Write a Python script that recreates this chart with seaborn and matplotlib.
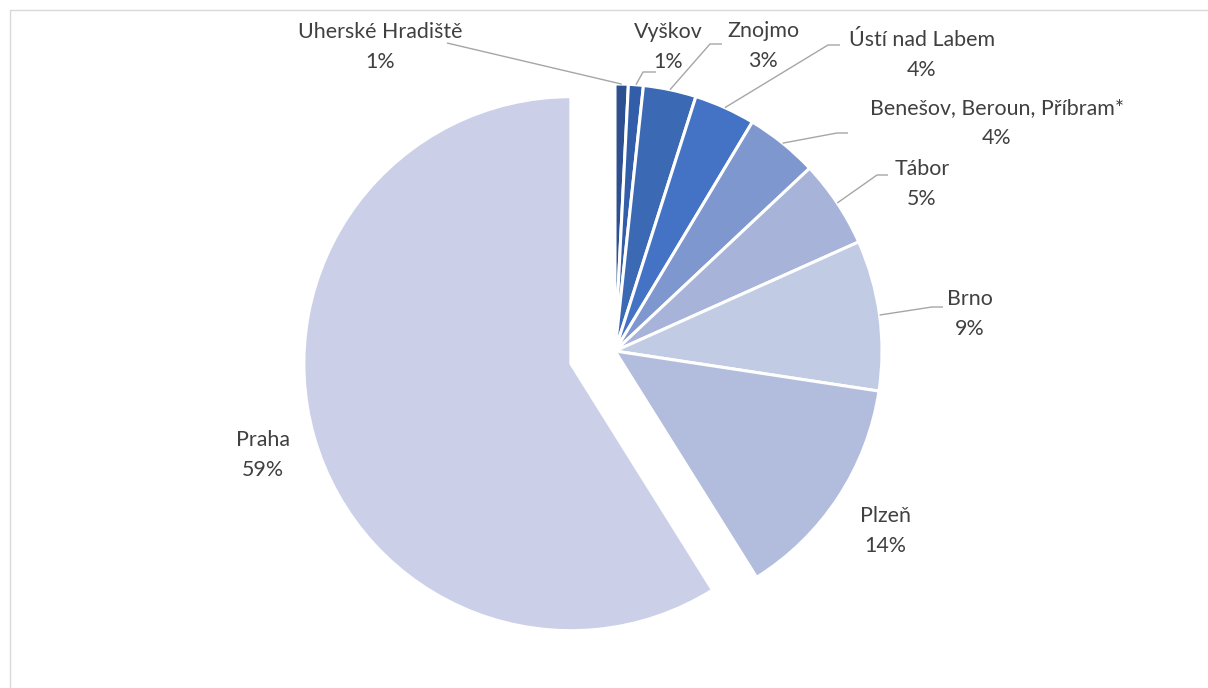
import numpy as np
import matplotlib
matplotlib.use("Agg")
import matplotlib.pyplot as plt
import seaborn as sns

# Share of cases by region (percent)
regions = ["Uherské Hradiště", "Vyškov", "Znojmo", "Ústí nad Labem",
           "Benešov, Beroun, Příbram*", "Tábor", "Brno", "Plzeň", "Praha"]
shares = [0.8, 0.9, 3.2, 3.7, 4.4, 5.3, 9.1, 13.7, 58.9]
colors = ["#2F5090", "#325EA9", "#3C69B4", "#4472C4", "#7F97CF",
          "#A7B3D9", "#C1CBE4", "#B2BDDD", "#CBD0E8"]
exploded = "Praha"

sns.set_style("white")
plt.rcParams["font.family"] = ["Lato", "DejaVu Sans"]

W, H = 1208, 688
CX, CY, R = 615, 351, 267  # pie centre and radius in pixels


def P(px, py):
    """Pixel position -> data coordinates (pie radius = 1)."""
    return ((px - CX) / R, (CY - py) / R)


fig = plt.figure(figsize=(W / 100, H / 100), dpi=100)
ax = fig.add_axes([0, 0, 1, 1])

explode = [0.172 if r == exploded else 0 for r in regions]
ax.pie(shares, colors=colors, startangle=90, counterclock=False,
       explode=explode, radius=1.0, center=(0, 0),
       wedgeprops=dict(edgecolor="white", linewidth=2.2))

# pie() resets the limits, so set the pixel-aligned view afterwards
ax.set_xlim(P(0, 0)[0], P(W, 0)[0])
ax.set_ylim(P(0, H)[1], P(0, 0)[1])
ax.set_aspect("equal", adjustable="datalim")
ax.set_position([0, 0, 1, 1])
ax.axis("off")

# label centres and leader-line knees (pixels); None = no leader line
label_pos = [(380, 47), (668, 47), (763, 46), (922, 55), (997, 123),
             (922, 184), (970, 314), (885, 531), (263, 455)]
leader_knee = [((447, 43), (447, 43)), ((656, 72), (643, 72)),
               ((722, 44), (710, 44)), ((840, 45), (828, 45)),
               ((848, 133), (837, 133)), ((888, 175), (877, 175)),
               ((943, 307), (932, 307)), None, None]

total = sum(shares)
cum = np.cumsum(shares)
for name, s, c, pos, knee in zip(regions, shares, cum, label_pos, leader_knee):
    pct = 100 * s / total
    x, y = P(*pos)
    ax.text(x, y, f"{name}\n{pct:.0f}%", ha="center", va="center",
            fontsize=15.4, color="#404040", linespacing=1.67)
    if knee is not None:
        theta = np.deg2rad(360 * (c - s / 2) / total)
        ax_pt = (np.sin(theta), np.cos(theta))
        e, k = P(*knee[0]), P(*knee[1])
        ax.plot([e[0], k[0], ax_pt[0]], [e[1], k[1], ax_pt[1]],
                color="#A6A6A6", lw=1.0, solid_capstyle="butt")

# chart-area frame
fx, fy = P(10, 10)
bx, by = P(W, H)
ax.plot([fx, fx], [by, fy], color="#D9D9D9", lw=1.0, clip_on=False)
ax.plot([fx, bx], [fy, fy], color="#D9D9D9", lw=1.0, clip_on=False)

fig.savefig("out.png", dpi=100, facecolor="white")
